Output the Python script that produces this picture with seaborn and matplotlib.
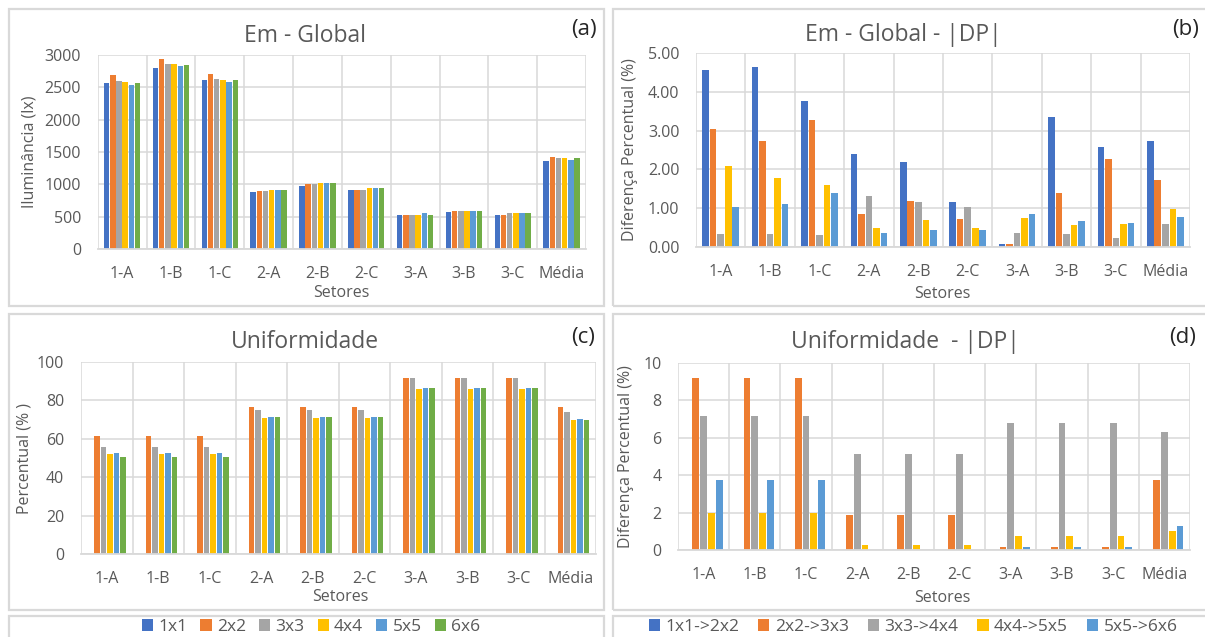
import pandas as pd
import matplotlib
matplotlib.use("Agg")
import matplotlib.pyplot as plt
from matplotlib.patches import Rectangle
from matplotlib.ticker import FormatStrFormatter
import seaborn as sns

# =========================
# DATA
# =========================
setores = ["1-A", "1-B", "1-C", "2-A", "2-B", "2-C", "3-A", "3-B", "3-C", "Média"]
malhas = ["1x1", "2x2", "3x3", "4x4", "5x5", "6x6"]
transicoes = ["1x1->2x2", "2x2->3x3", "3x3->4x4", "4x4->5x5", "5x5->6x6"]

em_1x1 = [2560, 2805, 2610, 880, 980, 920, 530, 570, 530, 1365]
em_2x2 = [2685, 2940, 2710, 900, 1005, 920, 530, 590, 530, 1425]
em_3x3 = [2595, 2865, 2630, 900, 1005, 920, 530, 590, 550, 1400]
em_4x4 = [2590, 2865, 2610, 920, 1015, 940, 530, 590, 550, 1400]
em_5x5 = [2530, 2825, 2575, 920, 1015, 940, 550, 590, 550, 1380]
em_6x6 = [2570, 2845, 2610, 920, 1015, 940, 530, 590, 550, 1400]

dp_em_12 = [4.57, 4.64, 3.76, 2.39, 2.19, 1.15, 0.07, 3.36, 2.59, 2.74]
dp_em_23 = [3.04, 2.72, 3.27, 0.85, 1.18, 0.72, 0.07, 1.38, 2.28, 1.73]
dp_em_34 = [0.34, 0.34, 0.30, 1.31, 1.15, 1.02, 0.36, 0.34, 0.23, 0.59]
dp_em_45 = [2.09, 1.77, 1.61, 0.49, 0.69, 0.49, 0.76, 0.56, 0.59, 0.98]
dp_em_56 = [1.04, 1.11, 1.38, 0.37, 0.43, 0.43, 0.85, 0.66, 0.63, 0.78]

u_1x1 = [0, 0, 0, 0, 0, 0, 0, 0, 0, 0]
u_2x2 = [61.6, 61.6, 61.6, 76.8, 76.8, 76.8, 91.9, 91.9, 91.9, 76.8]
u_3x3 = [55.9, 55.9, 55.9, 74.9, 74.9, 74.9, 91.9, 91.9, 91.9, 74.2]
u_4x4 = [51.9, 51.9, 51.9, 70.9, 70.9, 70.9, 86.0, 86.0, 86.0, 69.7]
u_5x5 = [52.6, 52.6, 52.6, 71.6, 71.6, 71.6, 86.7, 86.7, 86.7, 70.2]
u_6x6 = [50.7, 50.7, 50.7, 71.6, 71.6, 71.6, 86.7, 86.7, 86.7, 69.7]

dp_u_12 = [0, 0, 0, 0, 0, 0, 0, 0, 0, 0]
dp_u_23 = [9.22, 9.22, 9.22, 1.89, 1.89, 1.89, 0.14, 0.14, 0.14, 3.77]
dp_u_34 = [7.14, 7.14, 7.14, 5.12, 5.12, 5.12, 6.80, 6.80, 6.80, 6.33]
dp_u_45 = [1.98, 1.98, 1.98, 0.28, 0.28, 0.28, 0.75, 0.75, 0.75, 1.01]
dp_u_56 = [3.72, 3.72, 3.72, 0, 0, 0, 0.14, 0.14, 0.14, 1.28]

cores = ["#4472C4", "#ED7D31", "#A5A5A5", "#FFC000", "#5B9BD5", "#70AD47"]
TXT = "#595959"
GRID = "#D9D9D9"


def long_df(series, nomes):
    linhas = []
    for nome, vals in zip(nomes, series):
        for s, v in zip(setores, vals):
            linhas.append({"Setor": s, "Serie": nome, "Valor": v})
    return pd.DataFrame(linhas)


# =========================
# FIGURA
# =========================
sns.set_style("white")
plt.rcParams["font.family"] = ["Open Sans", "DejaVu Sans"]

W, H = 1205, 637
fig = plt.figure(figsize=(W / 100, H / 100), dpi=100)


def px(x0, y0, x1, y1):
    # pixel box -> figure fraction [left, bottom, width, height]
    return [x0 / W, 1 - y1 / H, (x1 - x0) / W, (y1 - y0) / H]


# caixas dos paineis e legendas
for (x0, y0, x1, y1) in [(8.5, 9, 604, 306), (613, 9, 1215, 306),
                         (8.5, 314, 604, 610), (613, 314, 1215, 610),
                         (8.5, 616, 604, 650), (613, 616, 1215, 650)]:
    l, b, w, h = px(x0, y0, x1, y1)
    fig.patches.append(Rectangle((l, b), w, h, transform=fig.transFigure,
                                 fill=False, edgecolor=GRID, lw=1.6))

paineis = [
    dict(box=(97.7, 55, 586, 249), df=long_df([em_1x1, em_2x2, em_3x3, em_4x4, em_5x5, em_6x6], malhas),
         order=malhas, ymax=3000, step=500, fmt="%d", title="Em - Global", tag="(a)",
         ylabel="Iluminância (lx)", tpos=(305, 36), tagpos=(584, 30), ylpos=29, sxpos=341, sypos=293),
    dict(box=(696, 53, 1190, 247), df=long_df([dp_em_12, dp_em_23, dp_em_34, dp_em_45, dp_em_56], transicoes),
         order=transicoes, ymax=5, step=1, fmt="%.2f", title="Em - Global - |DP|", tag="(b)",
         ylabel="Diferença Percentual (%)", tpos=(903, 35), tagpos=(1186, 30), ylpos=630, sxpos=942, sypos=294),
    dict(box=(81, 362, 596, 554), df=long_df([u_1x1, u_2x2, u_3x3, u_4x4, u_5x5, u_6x6], malhas),
         order=malhas, ymax=100, step=20, fmt="%d", title="Uniformidade", tag="(c)",
         ylabel="Percentual (% )", tpos=(305, 342), tagpos=(583, 337), ylpos=25, sxpos=340, sypos=597),
    dict(box=(678, 363, 1190, 550), df=long_df([dp_u_12, dp_u_23, dp_u_34, dp_u_45, dp_u_56], transicoes),
         order=transicoes, ymax=10, step=2, fmt="%d", title="Uniformidade  - |DP|", tag="(d)",
         ylabel="Diferença Percentual (%)", tpos=(905, 342), tagpos=(1183, 337), ylpos=626, sxpos=942, sypos=598),
]

eixos = []
for p in paineis:
    x0, y0, x1, y1 = p["box"]
    ax = fig.add_axes(px(x0, y0, x1, y1))
    sns.barplot(data=p["df"], x="Setor", y="Valor", hue="Serie", order=setores,
                hue_order=p["order"], palette=cores[:len(p["order"])], saturation=1,
                width=0.76, gap=0.12, linewidth=0, ax=ax)
    ax.set_xlim(-0.5, len(setores) - 0.5)
    ax.set_ylim(0, p["ymax"])
    ax.set_yticks([i * p["step"] for i in range(int(round(p["ymax"] / p["step"])) + 1)])
    ax.yaxis.set_major_formatter(FormatStrFormatter(p["fmt"]))
    ax.set_xticks([i - 0.5 for i in range(len(setores) + 1)], minor=True)
    ax.grid(axis="y", which="major", color=GRID, lw=1.1)
    ax.grid(axis="x", which="minor", color=GRID, lw=1.1)
    ax.grid(axis="x", which="major", visible=False)
    ax.set_axisbelow(True)
    for s in ["top", "right", "left"]:
        ax.spines[s].set_visible(False)
    ax.spines["bottom"].set_color(GRID)
    ax.spines["bottom"].set_linewidth(1.3)
    ax.tick_params(axis="both", which="both", length=0, colors=TXT, labelsize=11.5)
    ax.tick_params(axis="x", pad=12)
    ax.tick_params(axis="y", pad=12)
    ax.set_xlabel("")
    ax.set_ylabel("")
    fig.text(p["ylpos"] / W, 1 - ((y0 + y1) / 2) / H, p["ylabel"], rotation=90,
             ha="center", va="center", color=TXT, fontsize=11.5)
    fig.text(p["sxpos"] / W, 1 - p["sypos"] / H, "Setores", ha="center", va="center",
             color=TXT, fontsize=11.5)
    fig.text(p["tpos"][0] / W, 1 - p["tpos"][1] / H, p["title"], ha="center", va="center",
             color=TXT, fontsize=16.5)
    fig.text(p["tagpos"][0] / W, 1 - p["tagpos"][1] / H, p["tag"], ha="center", va="center",
             color="#262626", fontsize=16)
    eixos.append(ax)

# =========================
# LEGENDAS
# =========================
for ax, cx, esp in [(eixos[2], 311 / W, 0.75), (eixos[3], 913 / W, 1.1)]:
    h, l = ax.get_legend_handles_labels()
    ax.get_legend().remove()
    fig.legend(h, l, loc="center", bbox_to_anchor=(cx, 1 - 627 / H), ncol=len(l),
               frameon=False, handlelength=0.65, handleheight=0.65, handletextpad=0.3,
               columnspacing=esp, fontsize=12.5, labelcolor=TXT)
eixos[0].get_legend().remove()
eixos[1].get_legend().remove()

fig.savefig("out.png", dpi=100, facecolor="white")
